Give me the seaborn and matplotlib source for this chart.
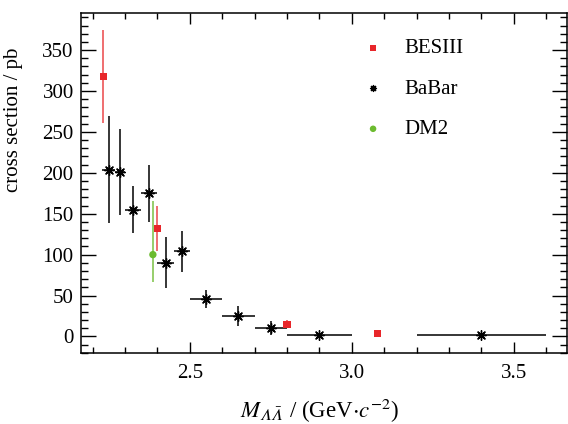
import numpy as np
import pandas as pd
import matplotlib
matplotlib.use("Agg")
import matplotlib.pyplot as plt
import seaborn as sns
from matplotlib.ticker import MultipleLocator

# BESIII
bes_x = [2.2324, 2.400, 2.800, 3.080]
bes_y = [318, 132, 15, 4]
bes_err = [57, 28, 5, 1]

# BaBar
babar_x = [2.250, 2.285, 2.325, 2.375, 2.425, 2.475, 2.55, 2.65, 2.75, 2.90, 3.40]
babar_y = [204, 201, 155, 175, 90, 104, 46, 25, 10, 2, 2]
babar_yerr = [65, 52, 29, 35, 31, 25, 11, 12, 8.5, 1, 1]
babar_xerr = [0.02, 0.015, 0.025, 0.025, 0.025, 0.025, 0.05, 0.05, 0.05, 0.10, 0.20]

# DM2
dm2_x = [2.386]
dm2_y = [100]
dm2_err_lo = [34]
dm2_err_hi = [65]

RED = "#e8262a"
GREEN = "#6cbb2f"

sns.set_theme(style="ticks", rc={"axes.edgecolor": "black", "xtick.color": "black",
                                 "ytick.color": "black", "text.color": "black",
                                 "axes.labelcolor": "black"})
plt.rcParams["font.family"] = ["Liberation Serif", "DejaVu Serif"]
plt.rcParams["mathtext.fontset"] = "stix"

fig = plt.figure(figsize=(5.68, 4.24), dpi=100)
ax = fig.add_axes([0.142, 0.168, 0.856, 0.8006])

# error bars
ax.errorbar(bes_x, bes_y, yerr=bes_err, fmt="none", ecolor=RED, elinewidth=1.1, alpha=0.85)
ax.errorbar(babar_x, babar_y, yerr=babar_yerr, xerr=babar_xerr, fmt="none",
            ecolor="black", elinewidth=1.1)
ax.errorbar(dm2_x, dm2_y, yerr=[dm2_err_lo, dm2_err_hi], fmt="none",
            ecolor=GREEN, elinewidth=1.1, alpha=0.9)

bes = pd.DataFrame({"x": bes_x, "y": bes_y})
babar = pd.DataFrame({"x": babar_x, "y": babar_y})
dm2 = pd.DataFrame({"x": dm2_x, "y": dm2_y})

sns.scatterplot(data=bes, x="x", y="y", marker="s", s=26, color=RED,
                edgecolor="none", label="BESIII", ax=ax, zorder=3)
sns.scatterplot(data=babar, x="x", y="y", marker=(8, 2, 0), s=48, color="black",
                linewidth=1.0, label="BaBar", ax=ax, zorder=3)
sns.scatterplot(data=dm2, x="x", y="y", marker="o", s=28, color=GREEN,
                edgecolor="none", label="DM2", ax=ax, zorder=3)

ax.set_xlim(2.163, 3.664)
ax.set_ylim(-20, 395)
ax.xaxis.set_major_locator(MultipleLocator(0.5))
ax.xaxis.set_minor_locator(MultipleLocator(0.1))
ax.yaxis.set_major_locator(MultipleLocator(50))
ax.yaxis.set_minor_locator(MultipleLocator(10))
ax.tick_params(which="both", direction="in", top=True, right=True, labelsize=15, width=1.0)
ax.tick_params(axis="x", which="major", length=8, pad=8)
ax.tick_params(axis="x", which="minor", length=4)
ax.tick_params(axis="y", which="major", length=10.5, pad=5)
ax.tick_params(axis="y", which="minor", length=5)
for sp in ax.spines.values():
    sp.set_linewidth(1.1)

ax.set_xlabel("$M_{\U0001D6EC\\bar{\U0001D6EC}}$ / (GeV$\\cdot c^{-2}$)", fontsize=16.5)
ax.set_ylabel("cross section / pb", fontsize=15)
ax.xaxis.set_label_coords(0.49, -0.13)
ax.yaxis.set_label_coords(-0.118, 0.686)

leg = ax.legend(loc="upper left", bbox_to_anchor=(0.52, 0.98), frameon=False, fontsize=15,
                labelspacing=1.0, handletextpad=0.5)
leg.legend_handles[0].set_sizes([20])
leg.legend_handles[1].set_sizes([18])
leg.legend_handles[2].set_sizes([22])

fig.savefig("out.png", dpi=100)
